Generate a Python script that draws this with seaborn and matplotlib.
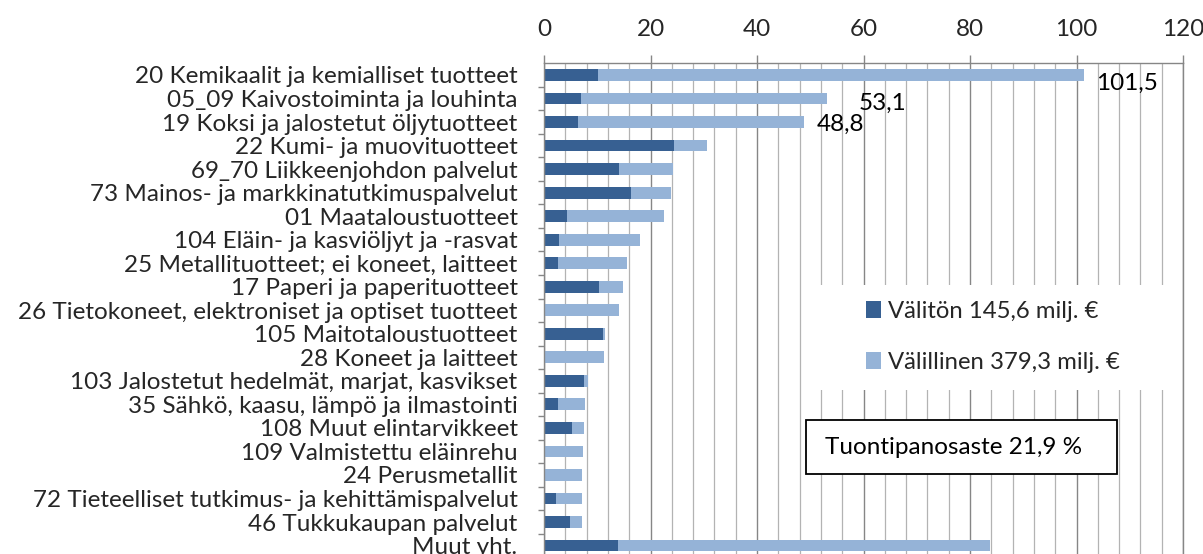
import matplotlib
matplotlib.use("Agg")
import matplotlib.pyplot as plt
from matplotlib.patches import Rectangle, Patch
from matplotlib.ticker import MultipleLocator, FixedLocator
import seaborn as sns
import numpy as np

categories = [
    "20 Kemikaalit ja kemialliset tuotteet",
    "05_09 Kaivostoiminta ja louhinta",
    "19 Koksi ja jalostetut öljytuotteet",
    "22 Kumi- ja muovituotteet",
    "69_70 Liikkeenjohdon palvelut",
    "73 Mainos- ja markkinatutkimuspalvelut",
    "01 Maataloustuotteet",
    "104 Eläin- ja kasviöljyt ja -rasvat",
    "25 Metallituotteet; ei koneet, laitteet",
    "17 Paperi ja paperituotteet",
    "26 Tietokoneet, elektroniset ja optiset tuotteet",
    "105 Maitotaloustuotteet",
    "28 Koneet ja laitteet",
    "103 Jalostetut hedelmät, marjat, kasvikset",
    "35 Sähkö, kaasu, lämpö ja ilmastointi",
    "108 Muut elintarvikkeet",
    "109 Valmistettu eläinrehu",
    "24 Perusmetallit",
    "72 Tieteelliset tutkimus- ja kehittämispalvelut",
    "46 Tukkukaupan palvelut",
    "Muut yht.",
]
valiton = [10.1, 6.9, 6.4, 24.5, 14.1, 16.4, 4.3, 2.8, 2.6, 10.4, 0.0,
           11.0, 0.0, 7.5, 2.6, 5.2, 0.0, 0.0, 2.3, 4.9, 13.9]
valillinen = [91.4, 46.2, 42.4, 6.1, 10.1, 7.4, 18.3, 15.3, 12.9, 4.4, 14.1,
              0.5, 11.2, 0.7, 5.1, 2.4, 7.3, 7.1, 4.8, 2.2, 69.9]
bar_labels = ["101,5", "53,1", "48,8"]
legend_labels = ["Välitön 145,6 milj. €", "Välillinen 379,3 milj. €"]
note_text = "Tuontipanosaste 21,9 %"
xticks = [0, 20, 40, 60, 80, 100, 120]

DARK = "#376092"
LIGHT = "#95B3D7"
MAJOR = "#868686"
MINOR = "#B3B3B3"

sns.set_style("white")
plt.rcParams["font.family"] = ["Lato", "DejaVu Sans"]

W, H = 1203, 554
fig = plt.figure(figsize=(W / 100, H / 100), dpi=100)
ax = fig.add_axes([544 / W, 0, (1183 - 544) / W, (554 - 63) / H])

totals = [a + b for a, b in zip(valiton, valillinen)]
sns.barplot(x=totals, y=categories, color=LIGHT, saturation=1, width=0.5,
            orient="h", linewidth=0, ax=ax, zorder=2)
sns.barplot(x=valiton, y=categories, color=DARK, saturation=1, width=0.5,
            orient="h", linewidth=0, ax=ax, zorder=2)

ax.set_xlim(0, 120)
ax.set_ylim(20.36, -0.51)
ax.set_xlabel("")
ax.set_ylabel("")

ax.xaxis.tick_top()
ax.set_xticks(xticks)
ax.xaxis.set_minor_locator(MultipleLocator(4))
ax.set_axisbelow(True)
ax.grid(axis="x", which="major", color=MAJOR, lw=1.0, zorder=0)
ax.grid(axis="x", which="minor", color=MINOR, lw=0.9, zorder=0)
ax.grid(axis="y", visible=False)
ax.tick_params(axis="x", which="major", length=5.8, width=1, color=MAJOR,
               direction="out", pad=11, labelsize=17.5, top=True, bottom=False)
ax.tick_params(axis="x", which="minor", length=0, top=False, bottom=False)
ax.yaxis.set_minor_locator(FixedLocator(np.arange(0.5, 21, 1)))
ax.tick_params(axis="y", which="major", length=0, pad=19, labelsize=17.5)
ax.tick_params(axis="y", which="minor", length=4.3, width=1, color=MAJOR,
               direction="out", left=True)

for side in ["left", "top", "right"]:
    ax.spines[side].set_visible(True)
    ax.spines[side].set_color(MAJOR)
    ax.spines[side].set_linewidth(1)
ax.spines["bottom"].set_visible(False)

# data labels for the three largest bars
label_dx = [2.2, 6.0, 2.4]
label_dy = [0.35, 0.2, 0.08]
for i, txt in enumerate(bar_labels):
    ax.text(totals[i] + label_dx[i], i + label_dy[i], txt, ha="left",
            va="center", fontsize=17.5, color="black", zorder=5)

# legend area (white background hiding gridlines)
ax.add_patch(Rectangle((806 / W, 1 - 390 / H), (1175 - 806) / W, (390 - 285) / H,
                       transform=fig.transFigure, facecolor="white",
                       edgecolor="none", clip_on=False, zorder=3))
handles = [Patch(facecolor=DARK, edgecolor="none"),
           Patch(facecolor=LIGHT, edgecolor="none")]
leg = ax.legend(handles, legend_labels, loc="center left",
                bbox_to_anchor=(866 / W, 1 - 337 / H),
                bbox_transform=fig.transFigure, frameon=False, fontsize=17.2,
                handlelength=0.62, handleheight=0.7, handletextpad=0.3,
                labelspacing=1.25, borderpad=0, borderaxespad=0)
leg.set_zorder(6)

# note box
ax.add_patch(Rectangle((806 / W, 1 - 474 / H), (1117 - 806) / W, (474 - 420) / H,
                       transform=fig.transFigure, facecolor="white",
                       edgecolor="black", lw=1.3, clip_on=False, zorder=4))
fig.text(825 / W, 1 - 448 / H, note_text, ha="left", va="center",
         fontsize=17.5, color="black", zorder=7)

fig.savefig("out.png", dpi=100)
